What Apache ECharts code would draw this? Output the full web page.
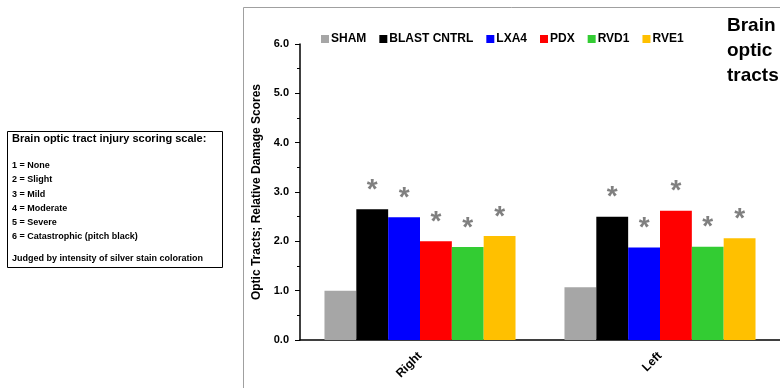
<!DOCTYPE html>
<html>
<head>
<meta charset="utf-8">
<script src="https://cdn.jsdelivr.net/npm/echarts@6/dist/echarts.min.js"></script>
<style>
html,body{margin:0;padding:0;background:#fff;}
#c{width:780px;height:388px;}
</style>
</head>
<body>
<div id="c"></div>
<script>
var categories = ['Right', 'Left'];
var seriesNames = ['SHAM', 'BLAST CNTRL', 'LXA4', 'PDX', 'RVD1', 'RVE1'];
var sham = [1.0, 1.07];
var blast = [2.65, 2.50];
var lxa4 = [2.49, 1.875];
var pdx = [2.0, 2.62];
var rvd1 = [1.885, 1.89];
var rve1 = [2.11, 2.06];
var significant = [false, true, true, true, true, true];
var yTicks = [0, 1, 2, 3, 4, 5, 6];
var colors = ['#a6a6a6', '#000000', '#0000ff', '#ff0000', '#33cc33', '#ffc000'];
var scaleTitle = 'Brain optic tract injury scoring scale:';
var scaleLines = ['1 = None', '2 = Slight', '3 = Mild', '4 = Moderate', '5 = Severe', '6 = Catastrophic (pitch black)'];
var scaleNote = 'Judged by intensity of silver stain coloration';
var chartTitle = 'Brain\noptic\ntracts';

var FONT = "'Liberation Sans', Arial, sans-serif";
var allData = [sham, blast, lxa4, pdx, rvd1, rve1];

var series = allData.map(function (d, i) {
  return {
    name: seriesNames[i],
    type: 'bar',
    data: d,
    barGap: '0%',
    barCategoryGap: '20.4%',
    itemStyle: { color: colors[i] },
    label: {
      show: significant[i],
      position: 'top',
      distance: 5,
      formatter: '*',
      color: '#808080',
      fontSize: 28,
      fontWeight: 'bold',
      fontFamily: FONT
    }
  };
});

var graphics = [
  { type: 'line', shape: { x1: 243.5, y1: 7.5, x2: 780, y2: 7.5 }, style: { stroke: '#a0a0a0', lineWidth: 1 } },
  { type: 'line', shape: { x1: 243.5, y1: 7.5, x2: 243.5, y2: 388 }, style: { stroke: '#a0a0a0', lineWidth: 1 } },
  { type: 'rect', shape: { x: 7.5, y: 131.5, width: 215, height: 136 }, style: { fill: '#fff', stroke: '#000', lineWidth: 1 } },
  { type: 'text', left: 12, top: 133, style: { text: scaleTitle, font: 'bold 11px ' + FONT, fill: '#000' } },
  { type: 'text', left: 12, top: 254, style: { text: scaleNote, font: 'bold 9px ' + FONT, fill: '#000' } },
  { type: 'text', left: 727, top: 13, style: { text: chartTitle, font: 'bold 19px ' + FONT, fill: '#000', lineHeight: 25 } }
];
var lineTops = [161, 175, 190, 204, 218, 232];
scaleLines.forEach(function (t, i) {
  graphics.push({ type: 'text', left: 12, top: lineTops[i], style: { text: t, font: 'bold 9px ' + FONT, fill: '#000' } });
});

var chart = echarts.init(document.getElementById('c'), null, { renderer: 'canvas' });
chart.setOption({
  animation: false,
  backgroundColor: '#fff',
  textStyle: { fontFamily: FONT },
  legend: {
    left: 316,
    top: 28,
    itemWidth: 8,
    itemHeight: 8,
    itemGap: 13,
    icon: 'rect',
    data: seriesNames,
    textStyle: { fontSize: 12, fontWeight: 'bold', color: '#000', fontFamily: FONT, padding: [0, 0, 0, -3] }
  },
  grid: { left: 300, right: 0, top: 44, bottom: 48, containLabel: false },
  xAxis: {
    type: 'category', data: categories,
    axisLine: { show: true, lineStyle: { color: '#000', width: 1.5 } },
    axisTick: { show: false },
    axisLabel: { rotate: 45, margin: 14, fontSize: 12, fontWeight: 'bold', color: '#000', fontFamily: FONT }
  },
  yAxis: {
    type: 'value', min: yTicks[0], max: yTicks[yTicks.length - 1], interval: 1,
    name: 'Optic Tracts; Relative Damage Scores',
    nameLocation: 'middle', nameGap: 36,
    nameTextStyle: { fontSize: 12, fontWeight: 'bold', color: '#000', fontFamily: FONT },
    axisLine: { show: true, lineStyle: { color: '#000', width: 1.5 } },
    axisTick: { show: true, inside: false, length: 5, lineStyle: { color: '#000' } },
    minorTick: { show: true, splitNumber: 2, length: 3, lineStyle: { color: '#000' } },
    splitLine: { show: false },
    axisLabel: { margin: 11, fontSize: 11, fontWeight: 'bold', color: '#000', fontFamily: FONT,
      formatter: function (v) { return v.toFixed(1); } }
  },
  series: series,
  graphic: graphics
});
</script>
</body>
</html>
